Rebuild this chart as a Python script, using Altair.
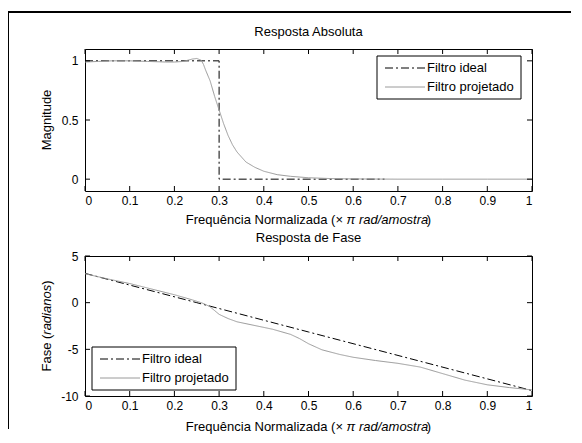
import altair as alt
import pandas as pd

# ---------------- data ----------------
SERIES = ["Filtro ideal", "Filtro projetado"]
COLORS = ["#000000", "#9a9a9a"]
DASHES = [[8, 3, 2, 3], [1, 0]]

x_ticks = [0, 0.1, 0.2, 0.3, 0.4, 0.5, 0.6, 0.7, 0.8, 0.9, 1]
mag_ticks = [0, 0.5, 1]
phase_ticks = [-10, -5, 0, 5]

# magnitude, ideal filter
f_mag_ideal = [0.0, 0.3, 0.3, 0.67]
mag_ideal = [1.0, 1.0, 0.0, 0.0]

# magnitude, designed filter
f_mag_proj = [0.0, 0.03, 0.06, 0.1, 0.14, 0.18, 0.2, 0.22, 0.24, 0.25, 0.26, 0.265,
              0.27, 0.28, 0.29, 0.30, 0.31, 0.32, 0.33, 0.34, 0.36, 0.38, 0.40,
              0.43, 0.46, 0.50, 0.55, 0.6, 0.7, 0.8, 0.9, 1.0]
mag_proj = [0.99, 0.995, 1.0, 1.0, 0.995, 0.99, 0.99, 0.995, 1.015, 1.02, 1.005, 0.97,
            0.92, 0.83, 0.70, 0.585, 0.47, 0.37, 0.29, 0.23, 0.145, 0.10, 0.067,
            0.038, 0.024, 0.012, 0.005, 0.002, 0.0, 0.0, 0.0, 0.0]

# phase, ideal filter
f_ph_ideal = [0.0, 0.25, 0.5, 0.75, 1.0]
ph_ideal = [3.14, 0.0, -3.14, -6.28, -9.42]

# phase, designed filter
f_ph_proj = [0.0, 0.05, 0.1, 0.15, 0.2, 0.24, 0.26, 0.27, 0.28, 0.29, 0.30, 0.32,
             0.34, 0.38, 0.42, 0.46, 0.48, 0.50, 0.53, 0.57, 0.60, 0.65, 0.70,
             0.75, 0.80, 0.85, 0.90, 0.95, 1.0]
ph_proj = [3.1, 2.55, 2.05, 1.45, 0.85, 0.3, 0.0, -0.2, -0.45, -0.85, -1.25, -1.7,
           -2.05, -2.45, -2.85, -3.4, -3.85, -4.4, -5.05, -5.55, -5.85, -6.2, -6.5,
           -6.9, -7.6, -8.3, -8.8, -9.1, -9.35]

# ---------------- layout / style ----------------
W = 447
H1 = 142
H2 = 140
FONT = "Liberation Sans"
FS = 13


def series_df(freqs, vals, name):
    return pd.DataFrame({"f": freqs, "v": vals, "s": name, "i": list(range(len(freqs)))})


def one():
    return pd.DataFrame({"a": [0]})


def text_piece(txt, x, y, align="center", italic=False, angle=0):
    return alt.Chart(one()).mark_text(
        text=txt, align=align, baseline="middle", font=FONT, fontSize=FS,
        fontStyle="italic" if italic else "normal", angle=angle, color="black"
    ).encode(x=alt.value(x), y=alt.value(y))


def legend_box(x0, y0, w=144, h=43):
    parts = [alt.Chart(one()).mark_rect(fill="white", stroke="black", strokeWidth=1).encode(
        x=alt.value(x0), x2=alt.value(x0 + w), y=alt.value(y0), y2=alt.value(y0 + h))]
    for k, name in enumerate(SERIES):
        yy = y0 + 12 + 19 * k
        parts.append(alt.Chart(one()).mark_rule(
            color=COLORS[k], strokeDash=DASHES[k], strokeWidth=1).encode(
            x=alt.value(x0 + 8), x2=alt.value(x0 + 48), y=alt.value(yy)))
        parts.append(text_piece(name, x0 + 50, yy, align="left"))
    return parts


def panel(df, ydomain, yticks, H, title, title_offset):
    xs = alt.Scale(domain=[0, 1], nice=False, zero=False)
    ys = alt.Scale(domain=ydomain, nice=False, zero=False)
    lines = alt.Chart(df).mark_line(strokeWidth=1).encode(
        x=alt.X("f:Q", scale=xs,
                axis=alt.Axis(values=x_ticks, labelExpr="'' + datum.value", title=None)),
        y=alt.Y("v:Q", scale=ys,
                axis=alt.Axis(values=yticks, labelExpr="'' + datum.value", title=None)),
        color=alt.Color("s:N", scale=alt.Scale(domain=SERIES, range=COLORS), legend=None),
        strokeDash=alt.StrokeDash("s:N", scale=alt.Scale(domain=SERIES, range=DASHES),
                                  legend=None),
        order=alt.Order("i:Q"),
    )
    tx = pd.DataFrame({"f": x_ticks})
    ty = pd.DataFrame({"v": yticks})
    rb = dict(color="black", strokeWidth=1)
    t_bottom = alt.Chart(tx).mark_rule(**rb).encode(x="f:Q", y=alt.value(H), y2=alt.value(H - 5))
    t_top = alt.Chart(tx).mark_rule(**rb).encode(x="f:Q", y=alt.value(0), y2=alt.value(5))
    t_left = alt.Chart(ty).mark_rule(**rb).encode(y="v:Q", x=alt.value(0), x2=alt.value(5))
    t_right = alt.Chart(ty).mark_rule(**rb).encode(y="v:Q", x=alt.value(W), x2=alt.value(W - 5))
    return [lines, t_bottom, t_top, t_left, t_right], alt.TitleParams(
        title, frame="group", anchor="middle", offset=title_offset,
        font=FONT, fontSize=FS, fontWeight="normal", color="black")


mag_df = pd.concat([series_df(f_mag_ideal, mag_ideal, SERIES[0]),
                    series_df(f_mag_proj, mag_proj, SERIES[1])])
ph_df = pd.concat([series_df(f_ph_ideal, ph_ideal, SERIES[0]),
                   series_df(f_ph_proj, ph_proj, SERIES[1])])

# x-axis title pieces (mixed upright / italic)
XT_A = "Frequência Normalizada (×"
XT_B = "π rad/amostra"
XT_C = ")"
xa, xb, xc = 258.0, 261.6, 341.8

layers_t, title_t = panel(mag_df, [-0.1, 1.1], mag_ticks, H1, "Resposta Absoluta", -28)
top = alt.layer(
    *layers_t,
    *legend_box(292, 7),
    text_piece(XT_A, xa, H1 + 29, align="right"),
    text_piece(XT_B, xb, H1 + 29, align="left", italic=True),
    text_piece(XT_C, xc, H1 + 29, align="left"),
    text_piece("Magnitude", -38, H1 / 2, angle=270),
    # figure frame
    alt.Chart(one()).mark_rule(color="black", strokeWidth=2).encode(
        x=alt.value(-77), x2=alt.value(486), y=alt.value(-37)),
    alt.Chart(one()).mark_rule(color="black", strokeWidth=2).encode(
        x=alt.value(-77), y=alt.value(-37), y2=alt.value(380)),
).properties(width=W, height=H1, title=title_t)

layers_b, title_b = panel(ph_df, [-10, 5], phase_ticks, H2, "Resposta de Fase", 5)
ymid = H2 / 2
bottom = alt.layer(
    *layers_b,
    *legend_box(7, 91),
    text_piece(XT_A, xa, H2 + 31, align="right"),
    text_piece(XT_B, xb, H2 + 31, align="left", italic=True),
    text_piece(XT_C, xc, H2 + 31, align="left"),
    text_piece("Fase (", -38, ymid + 45.5, align="left", angle=270),
    text_piece("radianos", -38, ymid + 8.7, align="left", italic=True, angle=270),
    text_piece(")", -38, ymid - 41.2, align="left", angle=270),
).properties(width=W, height=H2, title=title_b)

chart = alt.vconcat(top, bottom, spacing=65, bounds="flush").properties(
    padding={"left": -2, "top": 2, "right": 0, "bottom": 0},
    background="white",
).configure_axis(
    domain=False, ticks=False, tickSize=0, grid=False,
    labelFont=FONT, labelFontSize=12, labelColor="black",
).configure_axisX(labelPadding=4).configure_axisY(labelPadding=7).configure_view(
    stroke="black", strokeWidth=1
)

chart.save("out.html", embed_options={"renderer": "svg", "actions": False})
